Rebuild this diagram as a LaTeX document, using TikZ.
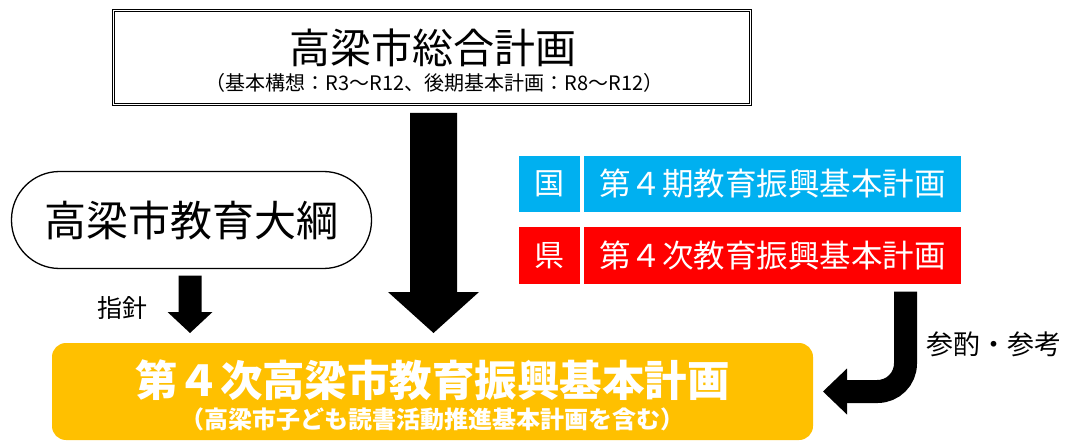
\documentclass[tikz,border=0pt]{standalone}
\usepackage{fontspec}
\setmainfont{Noto Sans CJK JP}
\usetikzlibrary{calc}
\definecolor{kuniblue}{HTML}{00B0F0}
\definecolor{kenred}{HTML}{FF0000}
\definecolor{planyellow}{HTML}{FFC000}
\begin{document}
\begin{tikzpicture}[x=1pt,y=-1pt,
  fs/.style={font=\fontsize{#1}{#1}\selectfont},
  fsb/.style={font=\fontsize{#1}{#1}\selectfont\bfseries},
  bx/.style={inner sep=0pt, outer sep=0pt},
  tagbox/.style={bx, fill=#1, text=white, minimum height=56pt},
  blockarrow/.style={fill=black}]
\useasboundingbox (0,0) rectangle (1072,441);

% top box
\node[bx, draw, double, line width=1.1pt, double distance=1.6pt,
      minimum width=637pt, minimum height=94pt] (top) at (432,57.5) {};
\node[bx, fs=41] (toptitle) at (432.5,47.5) {高梁市総合計画};
\node[bx, fs=20] (topsub) at (434.5,83) {（基本構想：R3～R12、後期基本計画：R8～R12）};

% left rounded box
\node[bx, draw, line width=1.3pt, rounded corners=48pt,
      minimum width=360pt, minimum height=97pt, fs=42] (taiko) at (191.5,220) {高梁市教育大綱};

% national / prefecture
\node[tagbox=kuniblue, minimum width=61pt, fs=30] (kuni) at (549.5,184) {国};
\node[tagbox=kuniblue, minimum width=377pt, fs=31.5] (kunip) at (772.5,184) {第４期教育振興基本計画};
\node[tagbox=kenred, minimum width=61pt, fs=30] (ken) at (549.5,255.5) {県};
\node[tagbox=kenred, minimum width=377pt, fs=31.5] (kenp) at (772.5,255.5) {第４次教育振興基本計画};

% main plan
\node[bx, fill=planyellow, rounded corners=14pt,
      minimum width=761pt, minimum height=97pt] (plan) at (432.5,391.5) {};
\node[bx, fsb=42.5, text=white] (plantitle) at (432.5,380) {第４次高梁市教育振興基本計画};
\node[bx, fsb=24, text=white] (plansub) at (432.5,419) {（高梁市子ども読書活動推進基本計画を含む）};

% big arrow
\coordinate (bA) at ($(top.south)+(1.5,8.5)$);
\coordinate (bT) at ($(bA |- plan.north)+(0,-10)$);
\fill[blockarrow] ($(bA)+(-23.5,0)$) -- ($(bA)+(23.5,0)$) -- ($(bT)+(23.5,-41)$)
  -- ($(bT)+(45.5,-41)$) -- (bT) -- ($(bT)+(-45.5,-41)$) -- ($(bT)+(-23.5,-41)$) -- cycle;

% small arrow
\coordinate (sA) at ($(taiko.south)+(-1.5,7)$);
\coordinate (sT) at ($(sA |- plan.north)+(0,-10)$);
\fill[blockarrow] ($(sA)+(-11.5,0)$) -- ($(sA)+(11.5,0)$) -- ($(sT)+(11.5,-21)$)
  -- ($(sT)+(22.5,-21)$) -- (sT) -- ($(sT)+(-22.5,-21)$) -- ($(sT)+(-11.5,-21)$) -- cycle;
\node[bx, fs=25] (shishin) at (122,308) {指針};

% curved arrow
\coordinate (cA) at ($(kenp.south east)+(-55.5,8)$);
\coordinate (cT) at ($(plan.east)+(10,0)$);
\draw[line width=23pt, rounded corners=28pt] (cA) -- (cA |- cT) -- ($(cT)+(24,0)$);
\fill[blockarrow] (cT) -- ($(cT)+(24,-23)$) -- ($(cT)+(24,23)$) -- cycle;
\node[bx, fs=27, anchor=west] (sanshaku) at (926,344) {参酌・参考};
\end{tikzpicture}
\end{document}
